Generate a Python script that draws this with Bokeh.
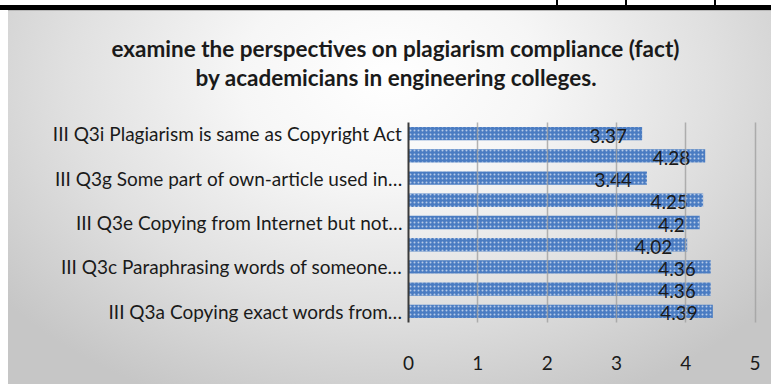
from bokeh.plotting import figure
from bokeh.models import Range1d, FixedTicker, Title, ColumnDataSource
from bokeh.core.properties import value
from bokeh.embed import file_html
from bokeh.resources import INLINE

codes = ["Q3a", "Q3b", "Q3c", "Q3d", "Q3e", "Q3f", "Q3g", "Q3h", "Q3i"]
means = [4.39, 4.36, 4.36, 4.02, 4.2, 4.25, 3.44, 4.28, 3.37]
shown_labels = {
    1: "III Q3a Copying exact words from\u2026",
    3: "III Q3c Paraphrasing words of someone\u2026",
    5: "III Q3e Copying from Internet but not\u2026",
    7: "III Q3g Some part of own-article used in\u2026",
    9: "III Q3i Plagiarism is same as Copyright Act",
}
x_ticks = [0, 1, 2, 3, 4, 5]
title_lines = ["examine the perspectives on plagiarism compliance (fact)",
               "by academicians in engineering colleges."]

FONT = "Lato"

pos = list(range(1, len(codes) + 1))
src = ColumnDataSource(dict(y=pos, v=means, lbl=[str(m) for m in means]))

p = figure(width=771, height=384, output_backend="svg", toolbar_location=None,
           x_range=Range1d(0, 5.02), y_range=Range1d(0.5, len(codes) + 0.5),
           min_border_left=408, min_border_right=15, min_border_bottom=62,
           min_border_top=122)
p.title = Title(text=title_lines[0], align="left", offset=-297, text_font=FONT,
                text_font_size="22.5px", text_font_style="bold", text_color="#1a1a1a",
                standoff=0)
p.add_layout(Title(text=" ", text_font_size="27px", standoff=0), "above")
p.add_layout(Title(text=title_lines[1], align="left", offset=-213, text_font=FONT,
                   text_font_size="22.5px", text_font_style="bold", text_color="#1a1a1a",
                   standoff=0), "above")

# transparent canvas, page-like gradient background drawn by CSS
p.background_fill_color = None
p.border_fill_color = None
p.outline_line_color = None
p.styles = {
    "background": (
        "linear-gradient(#000,#000) 0px 5px / 100% 5px no-repeat, "
        "linear-gradient(#000,#000) 556px 0px / 2px 6px no-repeat, "
        "linear-gradient(#000,#000) 625px 0px / 2px 6px no-repeat, "
        "linear-gradient(#000,#000) 714px 0px / 2px 6px no-repeat, "
        "linear-gradient(#b8b8b8,#b8b8b8) 8px 10px / 100% 1px no-repeat, "
        "radial-gradient(ellipse 65% 95% at 50% 18%, #ffffff 0%, #f6f6f6 30%, "
        "#e0e0e0 65%, #c6c6c6 100%) 8px 11px / calc(100% - 8px) calc(100% - 11px) no-repeat, "
        "#ffffff"
    )
}

p.hbar(y="y", right="v", left=0, height=0.6, source=src,
       fill_color="#4a7cc2", line_color=None,
       hatch_pattern="dot", hatch_color="white", hatch_alpha=0.6, hatch_scale=4,
       hatch_weight=1)
p.text(x="v", y="y", text="lbl", source=src, text_align="right",
       text_baseline="middle", x_offset=-15, y_offset=2,
       text_font=value(FONT), text_font_size="19px", text_color="#1a1a1a")

p.xaxis.ticker = FixedTicker(ticks=x_ticks)
p.xaxis.axis_line_color = None
p.xaxis.major_tick_line_color = None
p.xaxis.minor_tick_line_color = None
p.xaxis.major_label_standoff = 27
p.xaxis.major_label_text_font = FONT
p.xaxis.major_label_text_font_size = "19px"
p.xaxis.major_label_text_color = "#1a1a1a"

p.yaxis.ticker = FixedTicker(ticks=list(shown_labels.keys()))
p.yaxis.major_label_overrides = shown_labels
p.yaxis.axis_line_color = "#3a3a3a"
p.yaxis.axis_line_width = 2
p.yaxis.major_tick_line_color = None
p.yaxis.minor_tick_line_color = None
p.yaxis.major_label_standoff = 0
p.yaxis.major_label_text_font = FONT
p.yaxis.major_label_text_font_size = "19px"
p.yaxis.major_label_text_color = "#1a1a1a"

p.ygrid.grid_line_color = None
p.xgrid.ticker = FixedTicker(ticks=[1, 2, 3, 4, 5])
p.xgrid.grid_line_color = "#a0a0a0"
p.xgrid.grid_line_alpha = 0.8
p.xgrid.grid_line_width = 1.5
p.xgrid.level = "annotation"

open("out.html", "w").write(file_html(p, INLINE))
